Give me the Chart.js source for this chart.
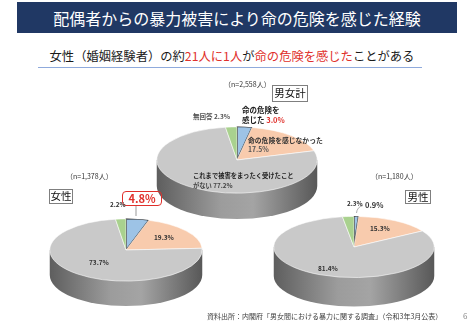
<!DOCTYPE html>
<html lang="ja">
<head>
<meta charset="utf-8">
<script src="https://cdn.jsdelivr.net/npm/chart.js"></script>
<style>
  html, body { margin: 0; padding: 0; background: #fff; }
  body { width: 474px; height: 325px; position: relative; overflow: hidden;
         font-family: "Noto Sans CJK JP", "Noto Sans", sans-serif; }
  .abs { position: absolute; white-space: nowrap; line-height: 1; }
  #title { left: 17px; top: 2px; width: 440px; height: 31px; background: #203864; color: #fff;
           font-size: 16px; display: flex; align-items: center; justify-content: center; }
  #sub { left: 0; width: 464px; top: 50px; text-align: center; font-size: 12.3px; color: #1a1a1a; }
  #subline { left: 38px; top: 67px; width: 384px; height: 0; border-top: 1px solid #8faadc; }
  .red { color: #e0302b; }
  .box { border: 1px solid #7f7f7f; color: #111; display: flex; align-items: center; justify-content: center; box-sizing: border-box; }
  .pie { position: absolute; }
  .n { font-size: 7px; color: #333; }
  .lab { font-weight: bold; color: #333; }
  #leaders { position: absolute; left: 0; top: 0; }
</style>
</head>
<body>
<div id="title" class="abs">配偶者からの暴力被害により命の危険を感じた経験</div>
<div id="sub" class="abs">女性（婚姻経験者）の約<span class="red">21人に1人</span>が<span class="red">命の危険を感じた</span>ことがある</div>
<div id="subline" class="abs"></div>

<div class="pie" id="wrapTotal"><canvas id="pieTotal"></canvas></div>
<div class="pie" id="wrapFemale"><canvas id="pieFemale"></canvas></div>
<div class="pie" id="wrapMale"><canvas id="pieMale"></canvas></div>

<svg id="leaders" width="474" height="325">
  <path d="M136 206 L136 216" stroke="#999" stroke-width="1" fill="none"/>
  <path d="M356.5 213 Q357 207 363 205.5" stroke="#999" stroke-width="0.8" fill="none"/>
</svg>

<div id="labels"></div>

<script>
// categories in drawing order (clockwise from 12 o'clock)
const categories = ['命の危険を感じた', '命の危険を感じなかった', 'これまで被害をまったく受けたことがない', '無回答'];
const totalValues = [3.0, 17.5, 77.2, 2.3];
const femaleValues = [4.8, 19.3, 73.7, 2.2];
const maleValues = [0.9, 15.3, 81.4, 2.3];
const groupNames = ['男女計', '女性', '男性'];
const sampleSizes = ['2,558', '1,378', '1,180'];
const source = '資料出所：内閣府「男女間における暴力に関する調査」（令和3年3月公表）';

const sliceColors = ['#9dc3e6', '#f8cbad', '#c9c9c9', '#a9d18e'];

const pct = v => v.toFixed(1) + '%';

// squash the pie into an ellipse and draw a cylinder side under it
const pie3d = {
  id: 'pie3d',
  beforeDatasetsDraw(chart, args, opts) {
    const ctx = chart.ctx;
    const arc = chart.getDatasetMeta(0).data[0];
    const x = arc.x, y = arc.y, r = arc.outerRadius;
    const k = opts.ratio;
    const d = opts.depth / k;
    ctx.save();
    ctx.translate(0, y);
    ctx.scale(1, k);
    ctx.translate(0, -y);
    const g = ctx.createLinearGradient(x - r, 0, x + r, 0);
    g.addColorStop(0, '#5e5e5e');
    g.addColorStop(0.4, '#9c9c9c');
    g.addColorStop(0.6, '#a4a4a4');
    g.addColorStop(1, '#585858');
    ctx.beginPath();
    ctx.moveTo(x - r, y);
    ctx.lineTo(x - r, y + d);
    ctx.arc(x, y + d, r, Math.PI, 0, true);
    ctx.lineTo(x + r, y);
    ctx.closePath();
    ctx.fillStyle = g;
    ctx.fill();
  },
  afterDatasetsDraw(chart) {
    chart.ctx.restore();
  }
};

function makePie(id, wrapId, values, cx, cy, rx, ry, depth) {
  const wrap = document.getElementById(wrapId);
  const side = 2 * rx + 2;
  wrap.style.left = (cx - side / 2) + 'px';
  wrap.style.top = (cy - side / 2) + 'px';
  wrap.style.width = side + 'px';
  wrap.style.height = side + 'px';
  return new Chart(document.getElementById(id), {
    type: 'pie',
    data: {
      labels: categories,
      datasets: [{
        data: values,
        backgroundColor: sliceColors,
        borderColor: ['#1a1a1a', '#ffffff', '#ffffff', '#ffffff'],
        borderWidth: [1.5, 0.8, 0.8, 0.8],
        hoverOffset: 0,
        clip: false
      }]
    },
    options: {
      responsive: true,
      maintainAspectRatio: false,
      animation: false,
      events: [],
      layout: { padding: 0 },
      plugins: {
        legend: { display: false },
        tooltip: { enabled: false },
        pie3d: { ratio: ry / rx, depth: depth }
      }
    },
    plugins: [pie3d]
  });
}

makePie('pieTotal', 'wrapTotal', totalValues, 237, 160, 80, 33, 26);
makePie('pieFemale', 'wrapFemale', femaleValues, 125.5, 250, 76, 31, 25);
makePie('pieMale', 'wrapMale', maleValues, 354, 247, 80, 30.5, 29);

// text overlays
const host = document.getElementById('labels');
function label(html, x, y, size, cls, extra) {
  const el = document.createElement('div');
  el.className = 'abs ' + (cls || '');
  el.style.left = x + 'px';
  el.style.top = (y - size * 0.55) + 'px';
  el.style.fontSize = size + 'px';
  if (extra) Object.assign(el.style, extra);
  el.innerHTML = html;
  host.appendChild(el);
  return el;
}
function box(text, x, y, w, h, size, extra) {
  const el = document.createElement('div');
  el.className = 'abs box';
  Object.assign(el.style, { left: x + 'px', top: y + 'px', width: w + 'px', height: h + 'px', fontSize: size + 'px' });
  if (extra) Object.assign(el.style, extra);
  el.textContent = text;
  host.appendChild(el);
  return el;
}

// 男女計
label('（n=' + sampleSizes[0] + '人）', 224, 85, 7, 'n');
box(groupNames[0], 272, 85, 36, 17, 10.5);
label('命の危険を', 242, 110, 7.5, 'lab', { color: '#222' });
label('感じた <span class="red">' + pct(totalValues[0]) + '</span>', 242, 120, 7.5, 'lab', { color: '#222' });
label('無回答 ' + pct(totalValues[3]), 193, 117, 6.5, 'lab', { color: '#555' });
label(categories[1], 248, 141, 6.8, 'lab');
label(pct(totalValues[1]), 248, 150, 6.8, 'lab', { color: '#555' });
label('これまで被害をまったく受けたこと', 193, 176, 6.3, 'lab', { color: '#222' });
label('がない ' + pct(totalValues[2]), 193, 186, 6.3, 'lab', { color: '#444' });

// 女性
label('（n=' + sampleSizes[1] + '人）', 66, 177, 7, 'n');
box(groupNames[1], 49, 189, 24, 15, 10.5);
box(pct(femaleValues[0]), 122, 191, 40, 15, 11,
    { border: '1.5px solid #e0302b', borderRadius: '4px', color: '#e0302b', fontWeight: 'bold' });
label(pct(femaleValues[3]), 110, 205, 6.3, 'lab');
label(pct(femaleValues[1]), 154, 238, 6.5, 'lab');
label(pct(femaleValues[2]), 89, 263, 6.5, 'lab');

// 男性
label('（n=' + sampleSizes[2] + '人）', 371, 177, 7, 'n');
box(groupNames[2], 405, 190, 26, 14, 10.5);
label(pct(maleValues[3]), 347, 204, 6.3, 'lab');
label(pct(maleValues[0]), 365, 205, 7.5, 'lab red');
label(pct(maleValues[1]), 370, 229, 6.5, 'lab');
label(pct(maleValues[2]), 318, 269, 6.5, 'lab');

// footer
label(source, 207, 317, 7, '', { color: '#404040' });
label('6', 463, 316, 8, '', { color: '#888' });
</script>
</body>
</html>
